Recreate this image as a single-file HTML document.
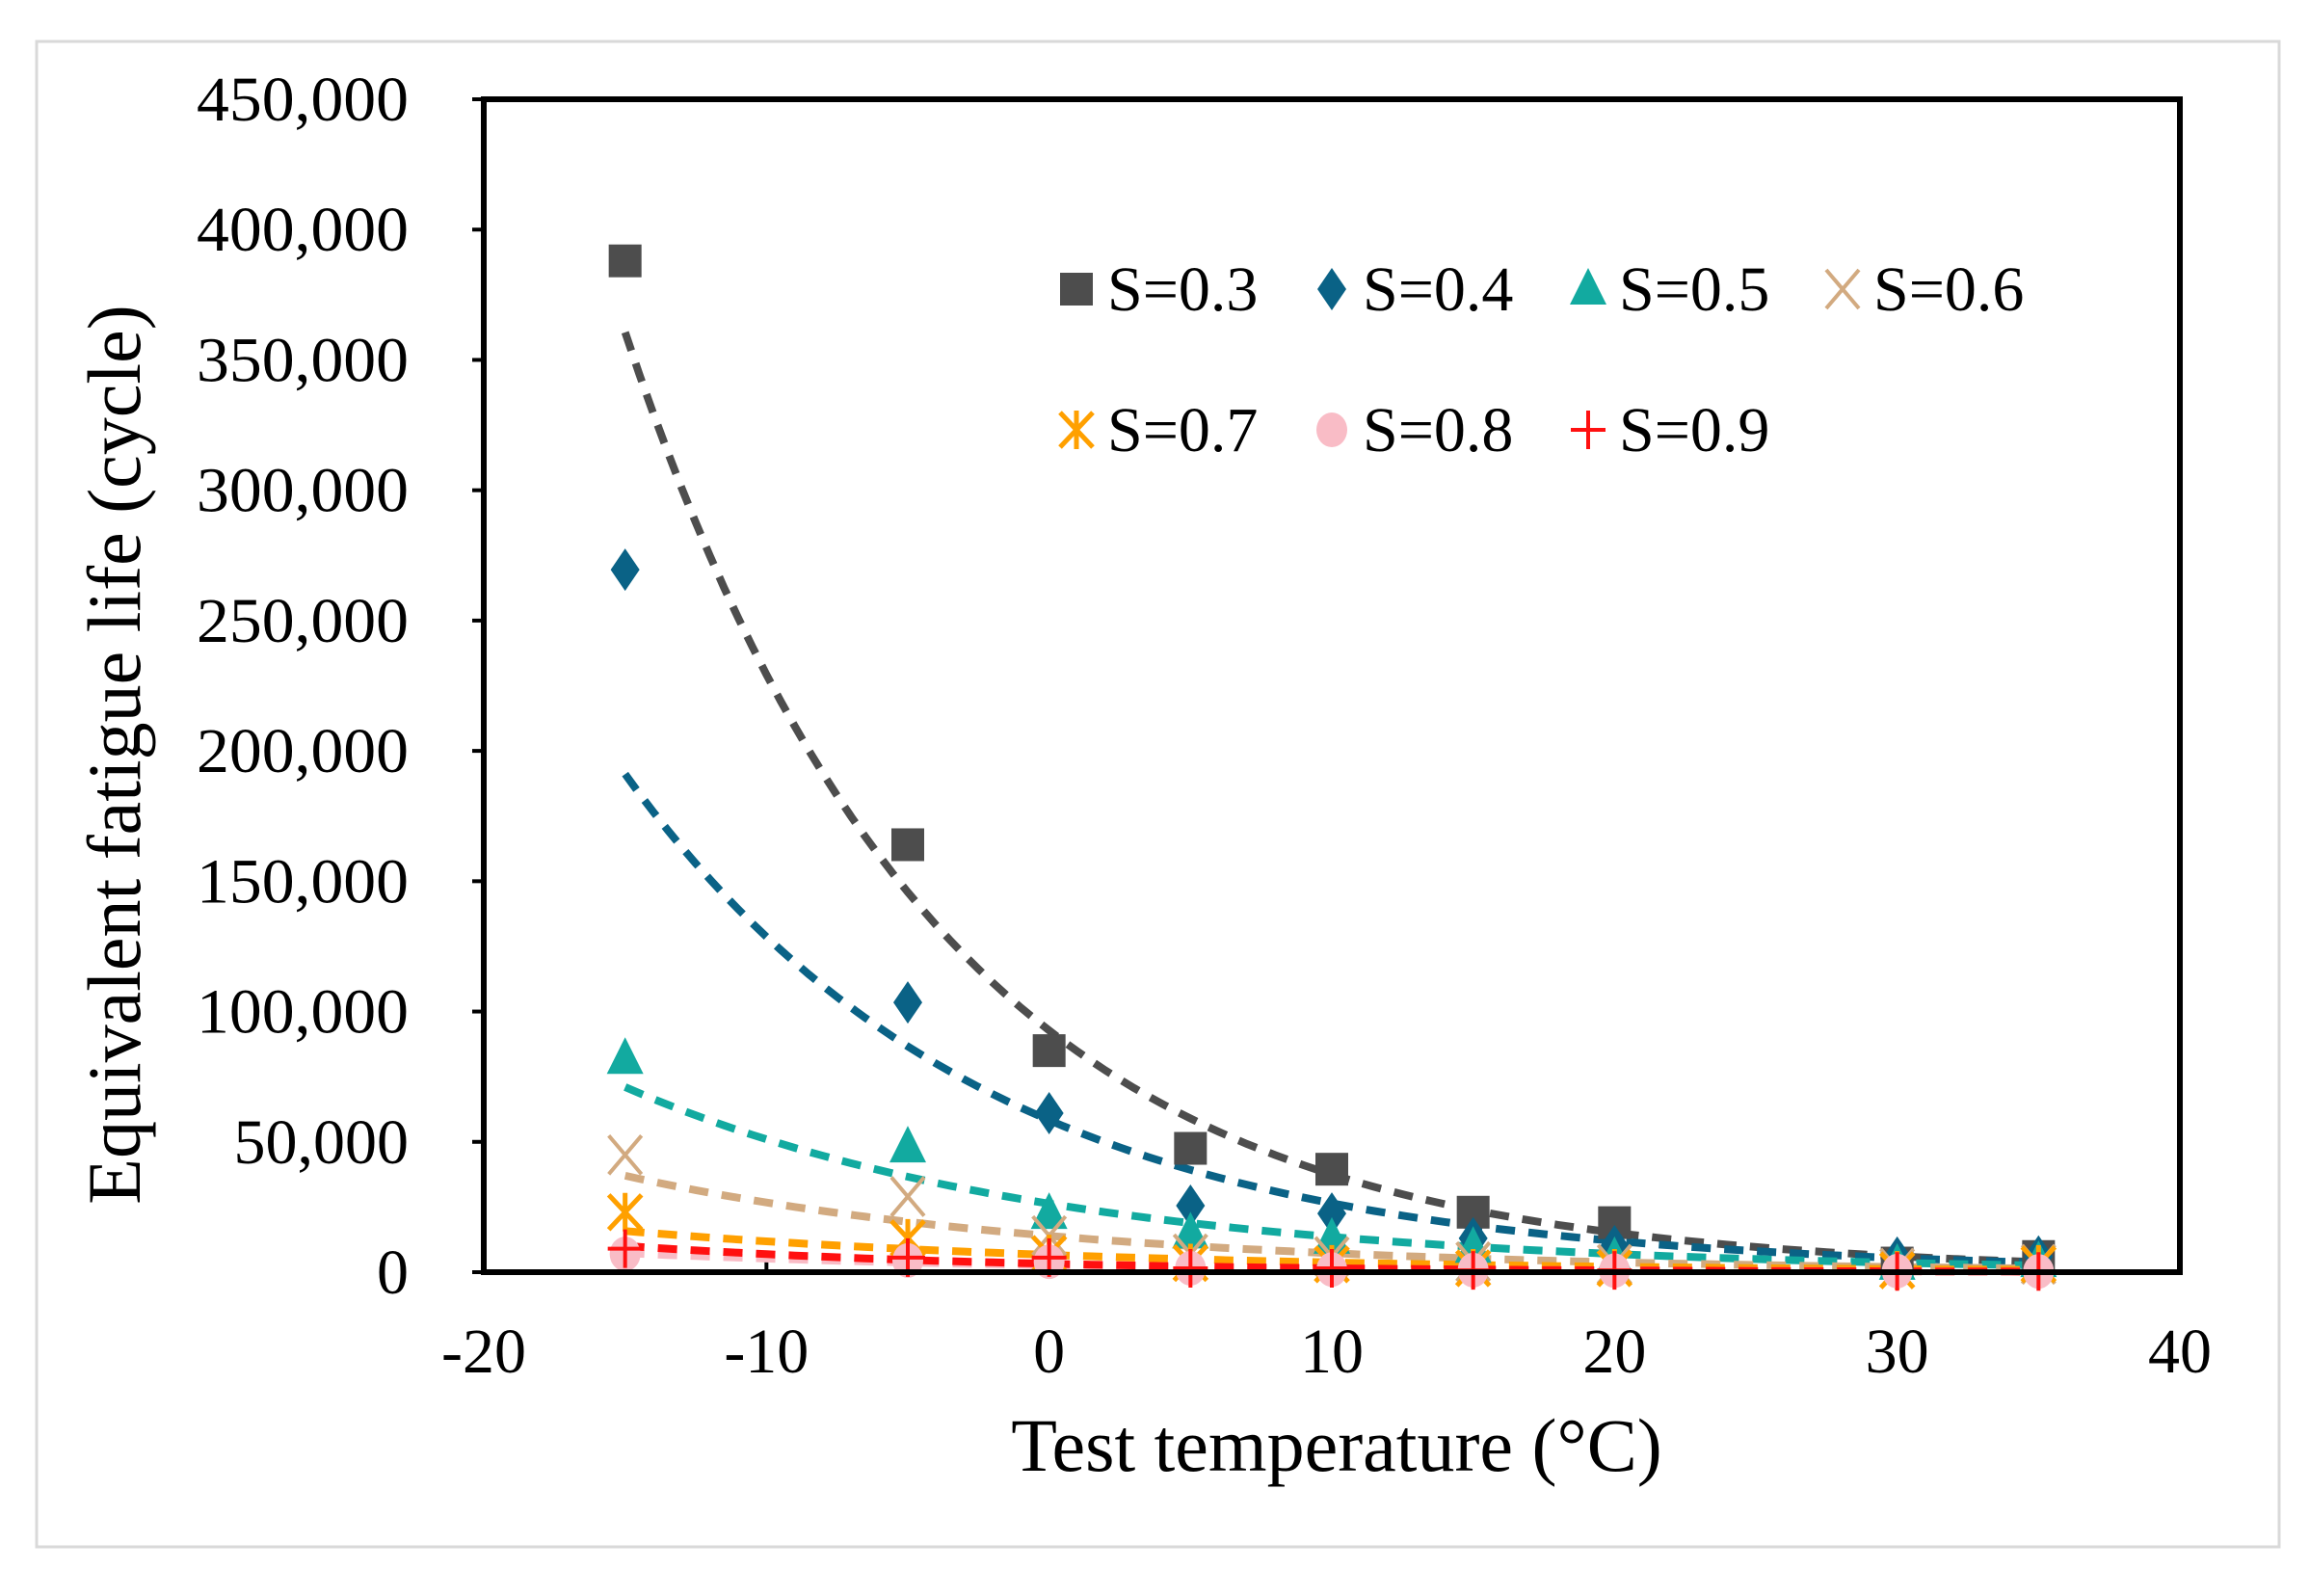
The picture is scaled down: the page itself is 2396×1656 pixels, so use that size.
<!DOCTYPE html>
<html><head><meta charset="utf-8"><style>
html,body{margin:0;padding:0;background:#fff;}
svg{display:block;font-family:"Liberation Serif",serif;}
</style></head><body>
<svg id="chart" width="2396" height="1656" viewBox="0 0 2396 1656">
<rect x="38" y="43" width="2327" height="1562" fill="#fff" stroke="#d9d9d9" stroke-width="3"/>
<g id="plot"></g>
</svg>
<script>
const temps = [-15, -5, 0, 5, 10, 15, 20, 30, 35];
const s03 = [388000, 164000, 85000, 47500, 39500, 23000, 19000, 3500, 6000];
const s04 = [269500, 103500, 61000, 25500, 22500, 13000, 10000, 5600, 6000];
const s05 = [82000, 48000, 22500, 15000, 13000, 9500, 5600, 3000, 4000];
const s06 = [45000, 29000, 14000, 7000, 6000, 4000, 3000, 1500, 3000];
const s07 = [23000, 13000, 7000, 3500, 3000, 1500, 1500, 700, 3000];
const s08 = [7000, 4500, 4000, 1500, 1000, 800, 600, 400, 300];
const s09 = [9000, 5600, 5600, 1500, 1500, 700, 700, 300, 300];
const yTicks = [0, 50000, 100000, 150000, 200000, 250000, 300000, 350000, 400000, 450000];
const xTicks = [-20, -10, 0, 10, 20, 30, 40];
const seriesNames = ["S=0.3","S=0.4","S=0.5","S=0.6","S=0.7","S=0.8","S=0.9"];

const NS="http://www.w3.org/2000/svg";
const L=502,R=2262,T=103,B=1320;
const X=v=>L+(v+20)/60*(R-L);
const Y=v=>B-v/450000*(B-T);
const g=document.getElementById('plot');
function mk(tag,attrs,parent){const e=document.createElementNS(NS,tag);for(const k in attrs)e.setAttribute(k,attrs[k]);(parent||g).appendChild(e);return e;}

const series=[
 {d:s03,c:"#4d4d4d",m:"square"},
 {d:s04,c:"#0a6286",m:"diamond"},
 {d:s05,c:"#12aaa0",m:"triangle"},
 {d:s06,c:"#d2aa80",m:"x"},
 {d:s07,c:"#ffa000",m:"star"},
 {d:s08,c:"#f9bcc6",m:"circle"},
 {d:s09,c:"#ff1010",m:"plus"}
];

yTicks.forEach(v=>{
 const t=mk('line',{x1:L-12,x2:L,y1:Y(v),y2:Y(v),stroke:'#000','stroke-width':4});
 
 
 const tx=mk('text',{x:424,y:Y(v)+22,'text-anchor':'end','font-size':66,textLength:220,lengthAdjust:'spacingAndGlyphs'});
 tx.textContent=v.toLocaleString('en-US');
 if(v<100000)tx.removeAttribute('textLength');
 
 
});
xTicks.forEach(v=>{
 const t=mk('line',{x1:X(v),x2:X(v),y1:B,y2:B-14,stroke:'#000','stroke-width':4});
 
 
 const tx=mk('text',{x:X(v),y:1424,'text-anchor':'middle','font-size':66});
 tx.textContent=v;
 
 
});

series.forEach((s,i)=>{
 let n=temps.length,sx=0,sy=0,sxx=0,sxy=0;
 temps.forEach((t,j)=>{const ly=Math.log(s.d[j]);sx+=t;sy+=ly;sxx+=t*t;sxy+=t*ly;});
 const b=(n*sxy-sx*sy)/(n*sxx-sx*sx),a=(sy-b*sx)/n;
 let p='';
 for(let t=-15;t<=35.01;t+=0.5){p+=(p?'L':'M')+X(t).toFixed(1)+','+Y(Math.exp(a+b*t)).toFixed(1);}
 const e=mk('path',{d:p,fill:'none',stroke:s.c,'stroke-width':8,'stroke-dasharray':'20 14'});
 
 
});

function marker(type,x,y,c,parent){
 let e;
 if(type==='square')e=mk('rect',{x:x-17,y:y-17,width:34,height:34,fill:c},parent);
 else if(type==='diamond')e=mk('path',{d:`M${x},${y-22}L${x+15},${y}L${x},${y+22}L${x-15},${y}Z`,fill:c},parent);
 else if(type==='triangle')e=mk('path',{d:`M${x},${y-22}L${x+19},${y+16}L${x-19},${y+16}Z`,fill:c},parent);
 else if(type==='x')e=mk('path',{d:`M${x-17},${y-20}L${x+17},${y+20}M${x+17},${y-20}L${x-17},${y+20}`,stroke:c,'stroke-width':4,fill:'none'},parent);
 else if(type==='star')e=mk('path',{d:`M${x-17},${y-18}L${x+17},${y+18}M${x+17},${y-18}L${x-17},${y+18}M${x},${y-20}L${x},${y+20}`,stroke:c,'stroke-width':5,fill:'none'},parent);
 else if(type==='circle')e=mk('ellipse',{cx:x,cy:y,rx:16,ry:18,fill:c},parent);
 else e=mk('path',{d:`M${x-18},${y}L${x+18},${y}M${x},${y-20}L${x},${y+20}`,stroke:c,'stroke-width':4,fill:'none'},parent);
 return e;
}
series.forEach((s,i)=>{
 temps.forEach((t,j)=>{
  const e=marker(s.m,X(t),Y(s.d[j]),s.c);
  
  
 });
});

const fr=mk('rect',{x:L,y:T,width:R-L,height:B-T,fill:'none',stroke:'#000','stroke-width':6});



const lgx=[1117,1382,1648,1912],lgy=[300,446];
series.forEach((s,i)=>{
 const x=lgx[i%4],y=lgy[Math.floor(i/4)];
 const gg=mk('g',{});
 
 
 marker(s.m,x,y,s.c,gg);
 const tx=mk('text',{x:x+32,y:y+22,'font-size':66},gg);
 tx.textContent=seriesNames[i];
});

const xt=mk('text',{x:1387,y:1526,'text-anchor':'middle','font-size':78});
xt.textContent='Test temperature (°C)';


const yt=mk('text',{x:0,y:0,'text-anchor':'middle','font-size':78,transform:'translate(145,783) rotate(-90)'});
yt.textContent='Equivalent fatigue life (cycle)';


</script>
</body></html>
